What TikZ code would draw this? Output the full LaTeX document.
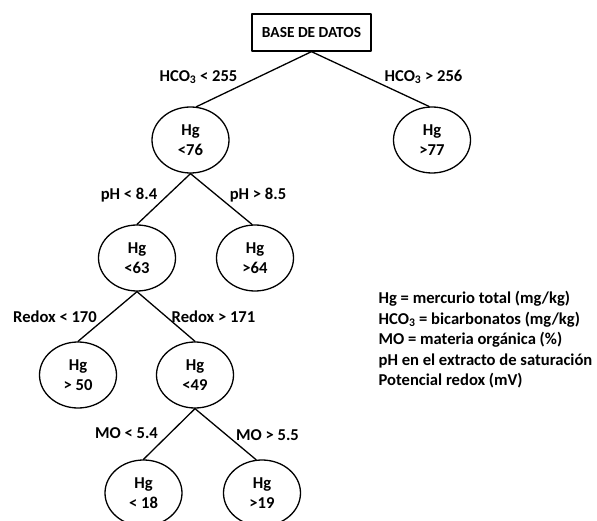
\documentclass[tikz,border=0pt]{standalone}
\usepackage{fontspec}
\setmainfont{Carlito}
\usetikzlibrary{shapes.geometric}
\begin{document}
\begin{tikzpicture}
[x=1pt, y=-1pt, font=\fontsize{16.6}{20.5}\selectfont\bfseries, line width=1.3pt, line join=round, line cap=round,
 hoja/.style={ellipse, draw, minimum width=77pt, minimum height=66pt, inner sep=0pt, align=center},
 raiz/.style={rectangle, draw, minimum width=119pt, minimum height=37pt, inner sep=0pt,
   font=\fontsize{15.4}{18}\selectfont\bfseries}]
\useasboundingbox (0,0) rectangle (597,521);
\node[raiz] (base) at (311.5,32.5) {BASE DE DATOS};
\foreach \n/\x/\y/\t in {n76/190.5/140/{<76}, n77/432/140/{>77}, n63/137/258/{<63}, n64/255/258/{>64},
  n50/78/375/{> 50}, n49/195/375/{<49}, n18/143.5/493/{< 18}, n19/262/493/{>19}}
\node[hoja] (\n) at (\x,\y) {Hg\\\t};
\draw (base.south) -- (n76.80);
\draw (base.south) -- (n77.95);
\foreach \a/\b/\g in {n76/n63/90, n76/n64/95, n63/n50/90, n63/n49/90, n49/n18/90, n49/n19/100}
\draw (\a.south) -- (\b.\g);
\foreach \p/\x/\y/\t in {hco1/198.5/77/{HCO\textsubscript{3} < 255}, hco2/423.5/77/{HCO\textsubscript{3} > 256},
  ph1/129/195/{pH < 8.4}, ph2/258/195/{pH > 8.5}, rdx1/55/317/{Redox < 170}, rdx2/213.5/317/{Redox > 171},
  mo1/126.5/433/{MO < 5.4}, mo2/267.5/435/{MO > 5.5}}
\node (\p) at (\x,\y) {\t};
\node[anchor=west, align=left, inner sep=0pt] (leyenda) at (378,340) {Hg = mercurio total (mg/kg)\\
  HCO\textsubscript{3} = bicarbonatos (mg/kg)\\MO = materia orgánica (\%)\\
  pH en el extracto de saturación\\Potencial redox (mV)};
\end{tikzpicture}
\end{document}
